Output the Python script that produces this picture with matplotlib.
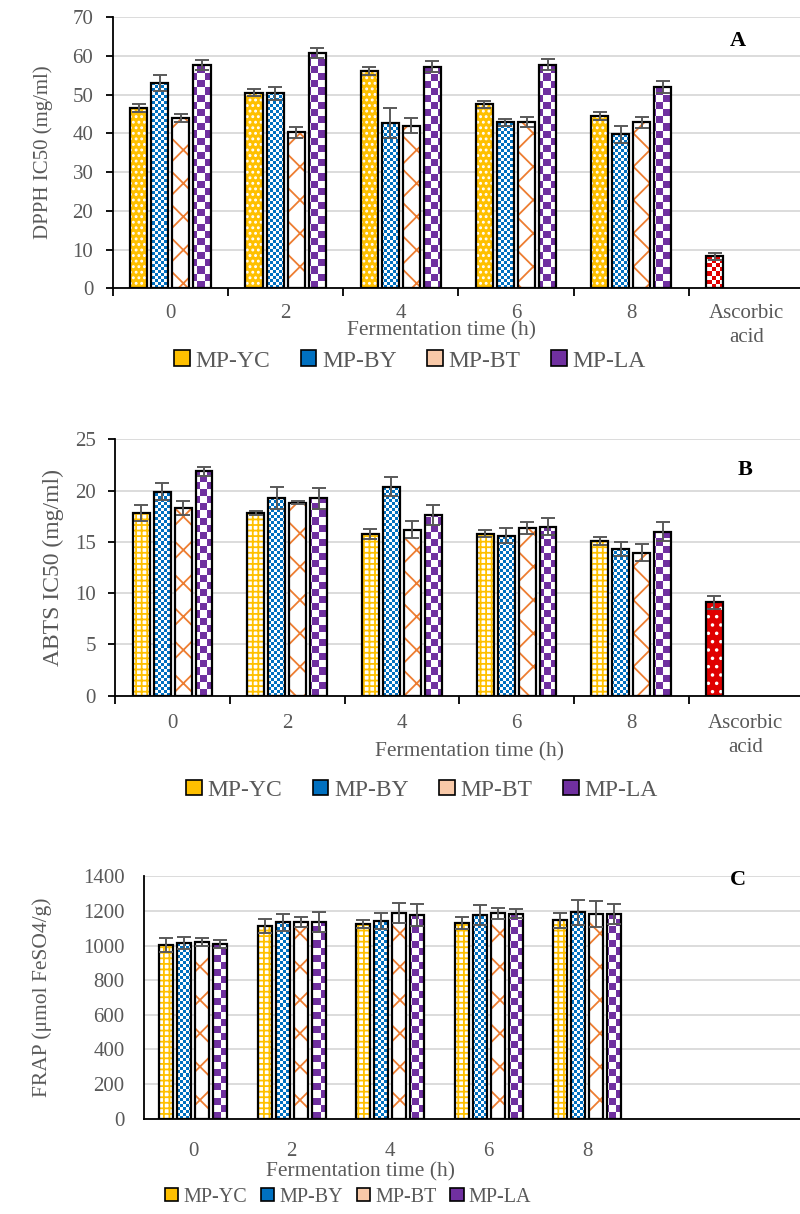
import numpy as np
import matplotlib
matplotlib.use("Agg")
import matplotlib.pyplot as plt
from matplotlib.colors import ListedColormap
from matplotlib.patches import Patch

plt.rcParams['font.family'] = ['Liberation Serif', 'DejaVu Serif']
plt.rcParams['hatch.linewidth'] = 1.3

GREY = '#595959'
YC_COL = '#FFC000'
BY_COL = '#0070C0'
BT_COL = '#ED7D31'
LA_COL = '#7030A0'
RED = '#E00000'

series = ['MP-YC', 'MP-BY', 'MP-BT', 'MP-LA']
times = ['0', '2', '4', '6', '8']

# A - DPPH IC50 (mg/ml)
dpph_yc = [46.5, 50.5, 56.0, 47.5, 44.5]
dpph_yc_err = [1.0, 1.0, 1.0, 0.9, 1.0]
dpph_by = [53.0, 50.3, 42.6, 42.8, 39.7]
dpph_by_err = [2.0, 1.6, 3.9, 1.0, 2.1]
dpph_bt = [43.9, 40.3, 42.0, 43.0, 42.8]
dpph_bt_err = [1.1, 1.4, 1.9, 1.3, 1.5]
dpph_la = [57.6, 60.7, 57.2, 57.7, 52.0]
dpph_la_err = [1.4, 1.4, 1.4, 1.4, 1.5]
dpph_asc = 8.3
dpph_asc_err = 0.9

# B - ABTS IC50 (mg/ml)
abts_yc = [17.8, 17.8, 15.8, 15.8, 15.1]
abts_yc_err = [0.75, 0.2, 0.5, 0.35, 0.4]
abts_by = [19.9, 19.3, 20.4, 15.6, 14.3]
abts_by_err = [0.85, 1.05, 0.95, 0.75, 0.7]
abts_bt = [18.3, 18.8, 16.2, 16.35, 13.95]
abts_bt_err = [0.7, 0.15, 0.85, 0.6, 0.85]
abts_la = [21.9, 19.25, 17.6, 16.5, 16.0]
abts_la_err = [0.45, 1.05, 1.0, 0.85, 0.9]
abts_asc = 9.1
abts_asc_err = 0.6

# C - FRAP (umol FeSO4/g)
frap_yc = [1003, 1115, 1125, 1132, 1146]
frap_yc_err = [39, 41, 23, 35, 44]
frap_by = [1015, 1134, 1144, 1179, 1192]
frap_by_err = [37, 47, 46, 58, 74]
frap_bt = [1019, 1136, 1188, 1186, 1183]
frap_bt_err = [23, 29, 56, 33, 77]
frap_la = [1009, 1136, 1177, 1185, 1181]
frap_la_err = [21, 58, 63, 27, 59]


def checker_fill(ax, patch, color, cell):
    # checkerboard texture clipped to one bar
    bb = ax.get_window_extent()
    nx = max(int(bb.width / cell), 1)
    ny = max(int(bb.height / cell), 1)
    board = np.indices((ny, nx)).sum(axis=0) % 2
    im = ax.imshow(board, cmap=ListedColormap(['white', color]), extent=(0, 1, 0, 1),
                   transform=ax.transAxes, interpolation='nearest', aspect='auto',
                   zorder=2.1)
    im.set_clip_path(patch)


def draw_series(ax, x, vals, errs, width, style):
    kind = style[0]
    if kind == 'hatch':
        # style: ('hatch', hatch colour, face colour, hatch pattern)
        ax.bar(x, vals, width, color=style[2], edgecolor=style[1], hatch=style[3],
               linewidth=0, zorder=2)
    else:
        # style: ('check', colour, cell size px)
        bars = ax.bar(x, vals, width, color='white', linewidth=0, zorder=2)
        for p in bars:
            checker_fill(ax, p, style[1], style[2])
    ax.bar(x, vals, width, fill=False, edgecolor='black', linewidth=1.6, zorder=3)
    ax.errorbar(x, vals, yerr=errs, fmt='none', ecolor=GREY, elinewidth=1.4,
                capsize=5, capthick=1.4, zorder=4)


def panel(rect, data, styles, ylim, ystep, ylabel, ylabel_size, letter, letter_xy,
          asc=None, nslots=6, xlab_xy=(0.5, -0.15), leg_xy=(0.45, -0.27),
          leg_size=16, leg_space=1.1, ticks_on=True, tick_pad=12, ylab_pad=8):
    ax = fig.add_axes(rect)
    ax.set_xlim(-0.5, nslots - 0.5)
    ax.set_ylim(*ylim)
    x = np.arange(len(times))
    step = 0.183
    width = 0.148 if ticks_on else 0.142
    offs = (np.arange(4) - 1.5) * step
    for i, (vals, errs) in enumerate(data):
        draw_series(ax, x + offs[i], vals, errs, width, styles[i])
    labels = list(times)
    if asc is not None:
        draw_series(ax, [5 + offs[0]], [asc[0]], [asc[1]], width, asc[2])
        labels.append('Ascorbic\nacid')
    ax.set_yticks(np.arange(ylim[0], ylim[1] + 1, ystep))
    ax.set_xticks(np.arange(len(labels)))
    ax.set_xticklabels(labels, linespacing=1.4)
    ax.grid(axis='y', color='#D9D9D9', linewidth=1.3, zorder=0)
    ax.set_axisbelow(True)
    for s in ['top', 'right']:
        ax.spines[s].set_visible(False)
    for s in ['left', 'bottom']:
        ax.spines[s].set_color('black')
        ax.spines[s].set_linewidth(1.3)
    ax.tick_params(axis='both', labelsize=15, labelcolor=GREY)
    ax.tick_params(axis='x', length=0, pad=tick_pad)
    if ticks_on:
        ax.tick_params(axis='y', length=5, width=1.3, color='black', pad=9)
        ax.set_xticks(np.arange(-0.5, nslots, 1.0), minor=True)
        ax.tick_params(axis='x', which='minor', length=6, width=1.3, color='black')
    else:
        ax.tick_params(axis='y', length=0, pad=14)
    ax.set_ylabel(ylabel, fontsize=ylabel_size, color=GREY, labelpad=ylab_pad)
    ax.text(xlab_xy[0], xlab_xy[1], 'Fermentation time (h)', transform=ax.transAxes,
            ha='center', va='center', fontsize=15.5, color=GREY)
    ax.text(letter_xy[0], letter_xy[1], letter, transform=ax.transAxes,
            ha='center', va='center', fontsize=16, fontweight='bold', color='black')
    handles = [
        Patch(facecolor=YC_COL, edgecolor='black', linewidth=1.2),
        Patch(facecolor=BY_COL, edgecolor='black', linewidth=1.2),
        Patch(facecolor='#F8C9A8', edgecolor='black', linewidth=1.2),
        Patch(facecolor=LA_COL, edgecolor='black', linewidth=1.2),
    ]
    ax.legend(handles, series, loc='center', bbox_to_anchor=leg_xy, ncol=4, frameon=False,
              fontsize=leg_size, labelcolor=GREY, handlelength=0.65, handleheight=0.65,
              handletextpad=0.25, columnspacing=leg_space, borderaxespad=0)
    return ax


fig = plt.figure(figsize=(8, 12.14), dpi=100)

styles_a = [('hatch', 'white', YC_COL, '...'), ('check', BY_COL, 3.0),
            ('hatch', BT_COL, 'white', 'x'), ('check', LA_COL, 7.0)]
styles_bc = [('hatch', YC_COL, 'white', '+++'), ('check', BY_COL, 3.0),
             ('hatch', BT_COL, 'white', 'x'), ('check', LA_COL, 7.0)]

panel([0.141, 0.7625, 0.864, 0.2235],
      [(dpph_yc, dpph_yc_err), (dpph_by, dpph_by_err), (dpph_bt, dpph_bt_err), (dpph_la, dpph_la_err)],
      styles_a, (0, 70), 10, 'DPPH IC50 (mg/ml)', 15, 'A', (0.905, 0.91),
      asc=(dpph_asc, dpph_asc_err, ('check', RED, 4.0)),
      xlab_xy=(0.475, -0.157), leg_xy=(0.43, -0.268), leg_size=17, leg_space=1.3,
      tick_pad=11, ylab_pad=14)

panel([0.144, 0.4269, 0.86, 0.2112],
      [(abts_yc, abts_yc_err), (abts_by, abts_by_err), (abts_bt, abts_bt_err), (abts_la, abts_la_err)],
      styles_bc, (0, 25), 5, 'ABTS IC50 (mg/ml)', 17, 'B', (0.915, 0.88),
      asc=(abts_asc, abts_asc_err, ('hatch', 'white', RED, '..')),
      xlab_xy=(0.515, -0.218), leg_xy=(0.446, -0.368), leg_size=17, leg_space=1.3,
      tick_pad=13)

panel([0.18, 0.0786, 0.82, 0.1995],
      [(frap_yc, frap_yc_err), (frap_by, frap_by_err), (frap_bt, frap_bt_err), (frap_la, frap_la_err)],
      styles_bc, (0, 1400), 200, 'FRAP (μmol FeSO4/g)', 15.5, 'C', (0.905, 0.985),
      nslots=6.66, xlab_xy=(0.33, -0.222), leg_xy=(0.311, -0.324), leg_size=14.5,
      leg_space=0.7, ticks_on=False, tick_pad=17, ylab_pad=22)

fig.savefig('out.png', dpi=100)
